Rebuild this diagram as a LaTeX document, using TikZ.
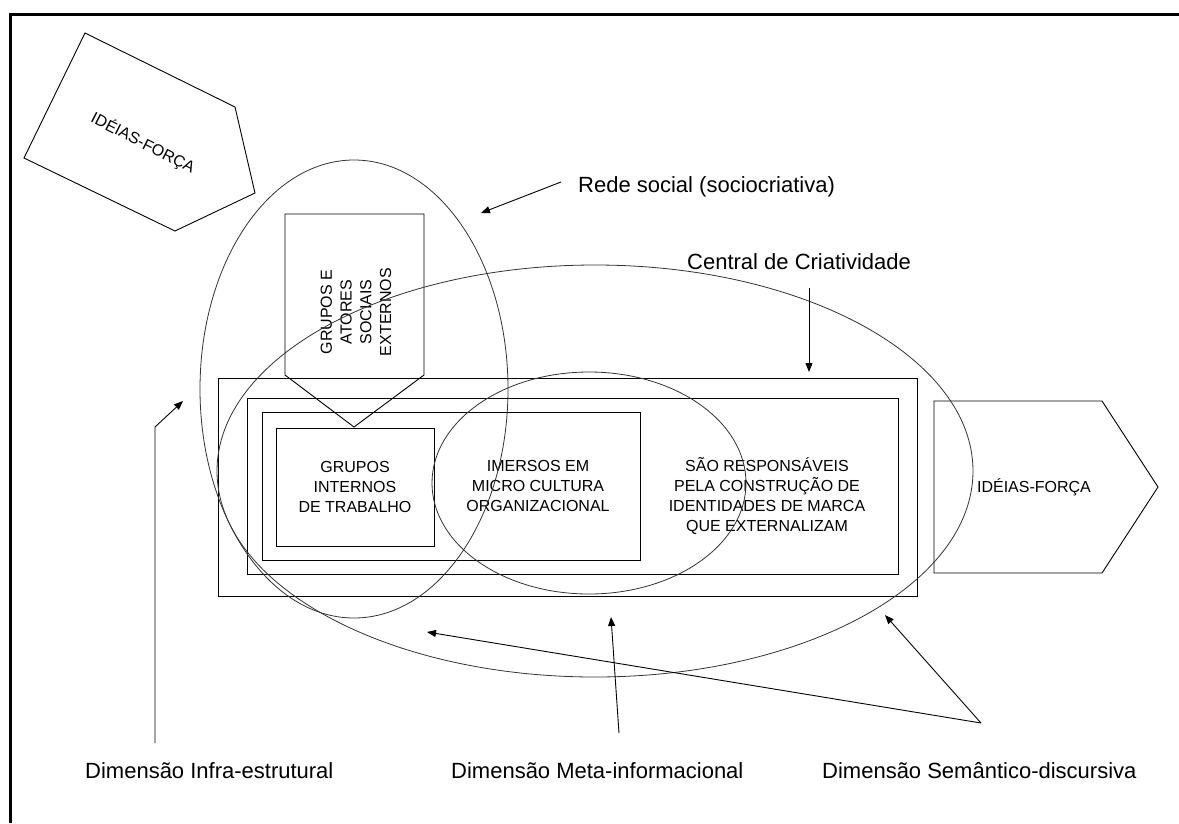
\documentclass[tikz,border=0pt]{standalone}
\usepackage{fontspec}
\setmainfont{Liberation Sans}
\usetikzlibrary{shapes.geometric,arrows.meta}

\begin{document}
\begin{tikzpicture}[x=1pt, y=-1pt]
  \tikzstyle{box} = [draw, rectangle, line width=0.9pt, inner sep=0pt]
  \tikzstyle{oval} = [draw=black!80, ellipse, line width=0.8pt, inner sep=0pt]
  \tikzstyle{txt} = [font=\fontsize{16}{19.7}\selectfont, align=center, inner sep=0pt]
  \tikzstyle{lbl} = [font=\fontsize{22}{26}\selectfont, inner sep=0pt]
  \tikzstyle{arr} = [-{Triangle[length=9pt,width=7pt]}, line width=0.9pt]
  \useasboundingbox (0,0) rectangle (1179,823);
  % moldura
  \draw[line width=3pt] (10,823) -- (10,14) -- (1179,14);

  % ideias-forca (entrada)
  \draw[line width=0.9pt] (85,33) -- (235,107) -- (255,193) -- (175,231) -- (24,158) -- cycle;
  \node[txt, rotate=-27] (ideiasIn) at (143,143) {IDÉIAS-FORÇA};

  % grupos externos
  \draw[line width=0.9pt] (285,214) -- (424,214) -- (424,375) -- (354,427) -- (285,375) -- cycle;
  \node[txt, rotate=90] (externos) at (356,312) {GRUPOS E\\ATORES\\SOCIAIS\\EXTERNOS};

  % caixas
  \node[box, minimum width=699pt, minimum height=218pt] (central) at (567.5,487) {};
  \node[box, minimum width=651pt, minimum height=176pt] (resp) at (572.5,486) {};
  \node[box, minimum width=378pt, minimum height=148pt] (imersos) at (451,486) {};
  \node[box, minimum width=158pt, minimum height=118pt] (internos) at (355,487) {};
  \node[txt] (internosT) at (355,487) {GRUPOS\\INTERNOS\\DE TRABALHO};
  \node[txt] (imersosT) at (538,486) {IMERSOS EM\\MICRO CULTURA\\ORGANIZACIONAL};
  \node[txt] (respT) at (767,496) {SÃO RESPONSÁVEIS\\PELA CONSTRUÇÃO DE\\IDENTIDADES DE MARCA\\QUE EXTERNALIZAM};

  % ideias-forca (saida)
  \draw[line width=0.9pt] (934,401) -- (1102,401) -- (1158,487) -- (1102,573) -- (934,573) -- cycle;
  \node[txt] (ideiasOut) at (1034,487) {IDÉIAS-FORÇA};

  % elipses
  \node[oval, minimum width=308pt, minimum height=458pt] (rede) at (354,389) {};
  \node[oval, minimum width=756pt, minimum height=412pt] (criat) at (595,471) {};
  \node[oval, minimum width=314pt, minimum height=222pt] (meta) at (589,483) {};

  % rotulos
  \node[lbl, anchor=west] (redeL) at (578,187) {Rede social (sociocriativa)};
  \node[lbl, anchor=west] (centralL) at (687,262) {Central de Criatividade};
  \node[lbl, anchor=base west] (infraL) at (85,778) {Dimensão Infra-estrutural};
  \node[lbl, anchor=base west] (metaL) at (451,778) {Dimensão Meta-informacional};
  \node[lbl, anchor=base west] (semL) at (822,778) {Dimensão Semântico-discursiva};

  % setas
  \coordinate (redeA) at (561,182);
  \coordinate (redeB) at (481,213);
  \coordinate (centralA) at (809,288);
  \coordinate (centralB) at (809,372);
  \coordinate (infraA) at (155,743);
  \coordinate (infraK) at (155,427);
  \coordinate (infraB) at (183,401);
  \coordinate (metaA) at (619,733);
  \coordinate (metaB) at (611,617);
  \coordinate (semA) at (981,723);
  \coordinate (semB) at (885,615);
  \coordinate (semC) at (427,632);
  \draw[arr] (redeA) -- (redeB);
  \draw[arr] (centralA) -- (centralB);
  \draw[arr] (infraA) -- (infraK) -- (infraB);
  \draw[arr] (metaA) -- (metaB);
  \draw[arr] (semA) -- (semB);
  \draw[arr] (semA) -- (semC);
\end{tikzpicture}
\end{document}
